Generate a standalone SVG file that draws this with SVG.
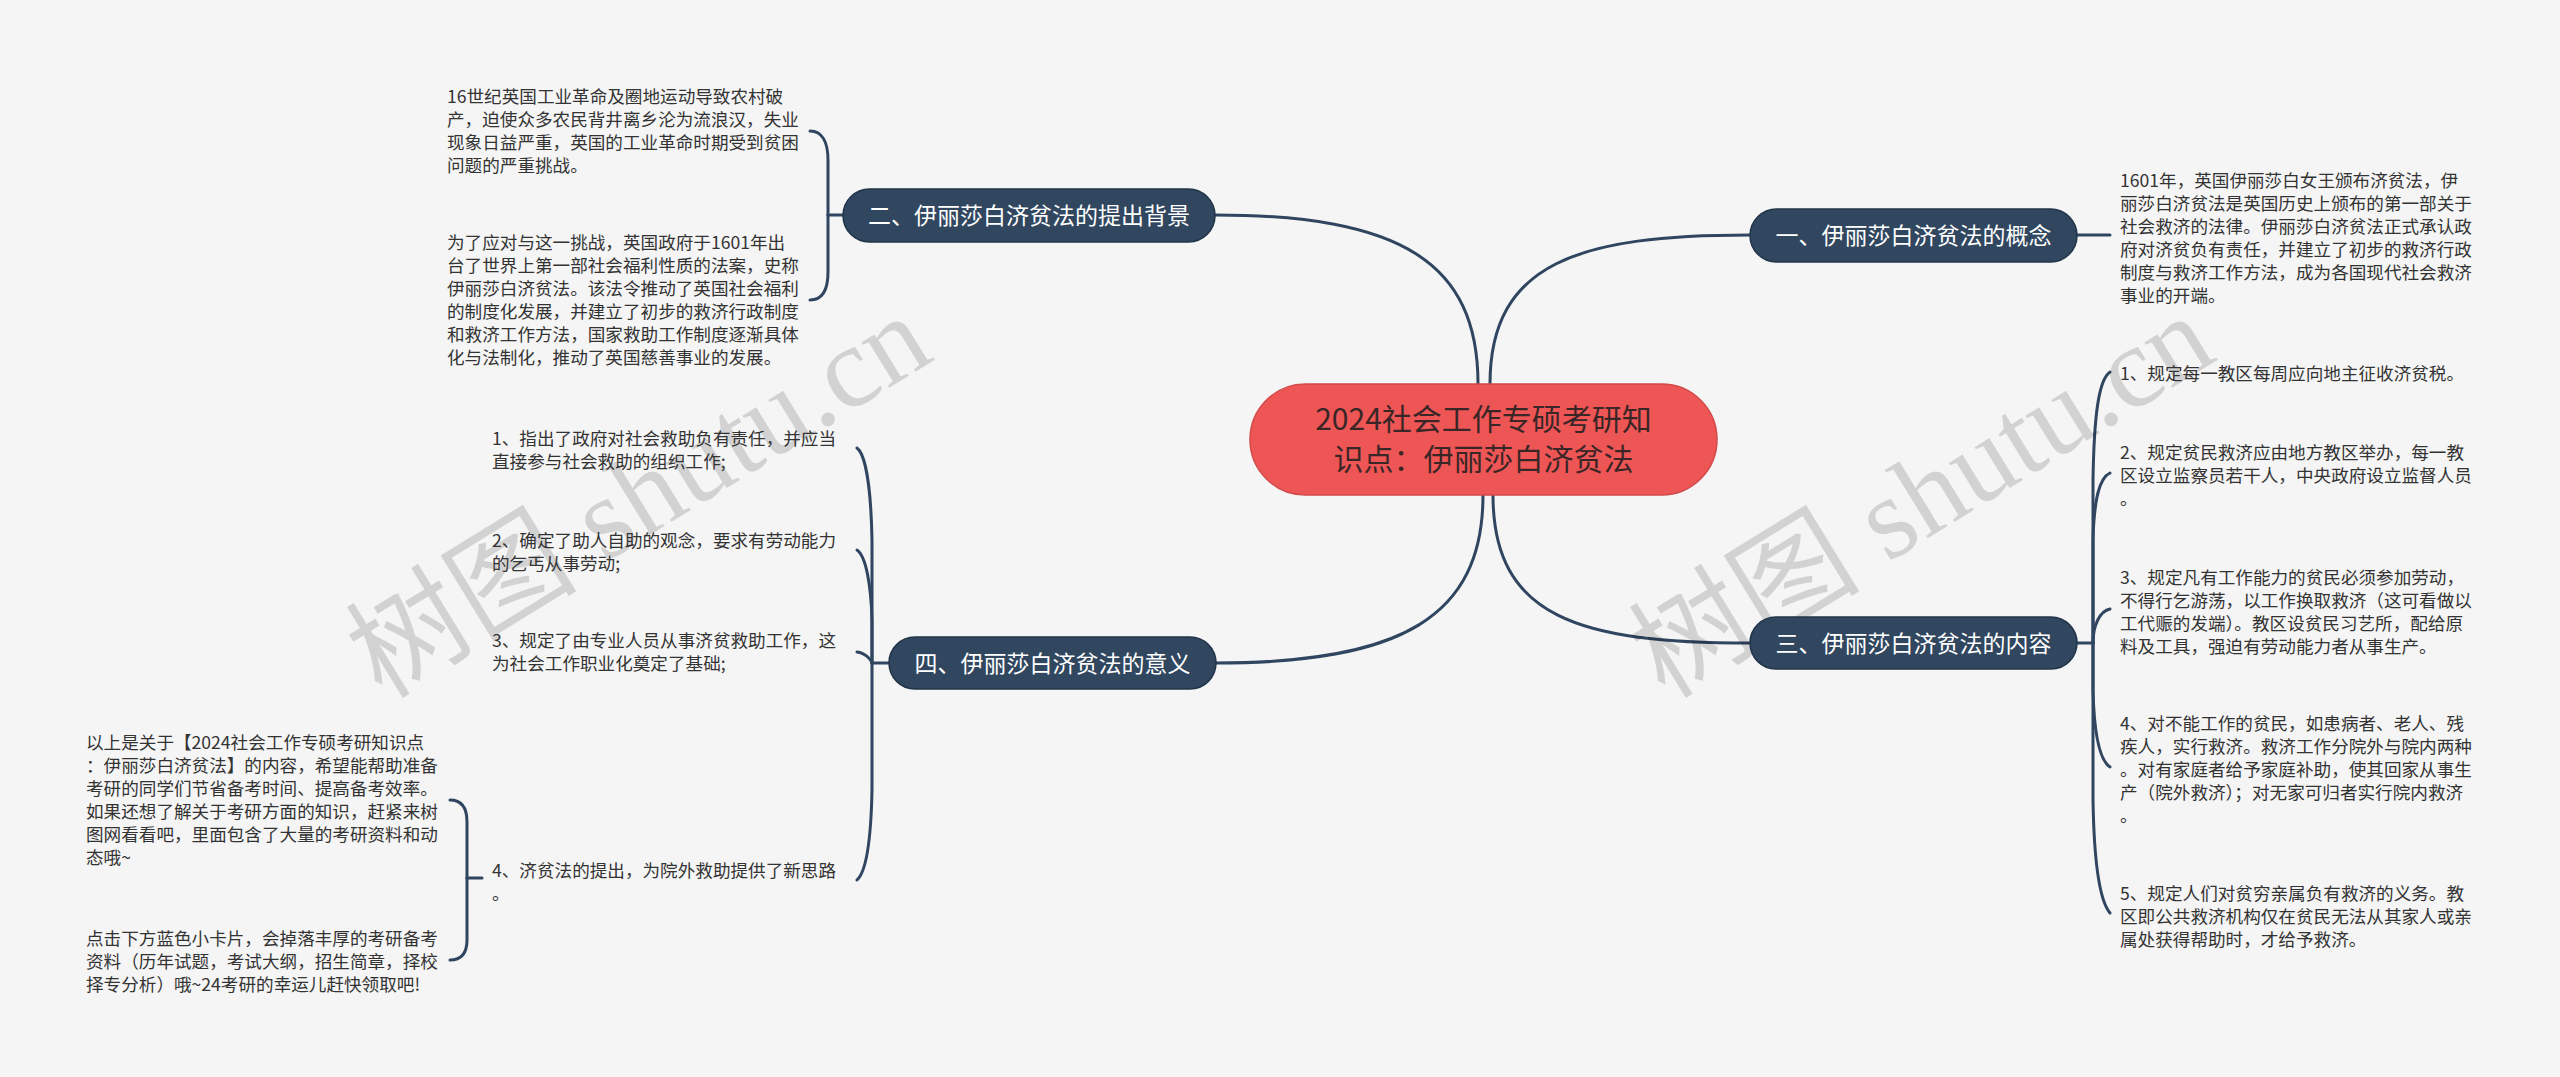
<svg xmlns="http://www.w3.org/2000/svg" width="2560" height="1077" viewBox="0 0 2560 1077">
<style>
.bg{fill:#f5f5f5}
.line{fill:none;stroke:#2f4560;stroke-width:3;stroke-linecap:round}
.branch rect{fill:#30475f;stroke:#22344a;stroke-width:1.5}
.branch text{fill:#ffffff;font-family:"Noto Sans CJK SC","Noto Sans",sans-serif;font-size:23px;text-anchor:middle}
.leaf{fill:#333333;font-family:"Noto Sans CJK SC","Noto Sans",sans-serif;font-size:17.6px}
.wm{fill:#000000;fill-opacity:0.14;font-family:"Liberation Serif","Noto Sans CJK SC",serif;font-size:116px}
</style>
<rect class="bg" x="0" y="0" width="2560" height="1077"/>

<g id="connectors">
  <path class="line" d="M1478,384 C1478,262 1400,215 1215,215"/>
  <path class="line" d="M1490,384 C1490,262 1580,235 1750,235"/>
  <path class="line" d="M1493,495 C1493,618 1580,643 1750,643"/>
  <path class="line" d="M1483,495 C1483,618 1400,663 1216,663"/>
  <!-- 二 children -->
  <path class="line" d="M843,215 L828,215"/>
  <path class="line" d="M828,215 L828,160 C828,142 822,131 810,131"/>
  <path class="line" d="M828,215 L828,272 C828,290 822,300 810,300"/>
  <!-- 一 child -->
  <path class="line" d="M2077,235 L2110,235"/>
  <!-- 三 children -->
  <path class="line" d="M2077,643 L2093,643"/>
  <path class="line" d="M2093,643 L2093,480 C2094,420 2098,380 2110,372"/>
  <path class="line" d="M2093,643 L2093,540 C2094,500 2099,478 2110,473"/>
  <path class="line" d="M2093,643 C2093,625 2100,611 2110,609"/>
  <path class="line" d="M2093,643 L2093,690 C2094,730 2099,760 2110,767"/>
  <path class="line" d="M2093,643 L2093,800 C2094,860 2099,900 2110,913"/>
  <!-- 四 children -->
  <path class="line" d="M889,663 L872,663"/>
  <path class="line" d="M872,663 L872,540 C871,490 866,455 857,448"/>
  <path class="line" d="M872,663 L872,620 C871,585 866,556 857,550"/>
  <path class="line" d="M872,663 C871,660 866,653 857,652"/>
  <path class="line" d="M872,663 L872,790 C871,840 866,872 857,880"/>
  <!-- 四-4 children -->
  <path class="line" d="M482,878 L467,878"/>
  <path class="line" d="M467,878 L467,822 C467,808 462,800 450,800"/>
  <path class="line" d="M467,878 L467,940 C467,952 462,960 450,960"/>
</g>

<g id="watermarks">
  <text class="wm" transform="translate(382,700) rotate(-31.6)">树图 shutu.cn</text>
  <text class="wm" transform="translate(1665,700) rotate(-31.6)">树图 shutu.cn</text>
</g>

<g id="center">
  <rect x="1250" y="384" width="467" height="111" rx="55.5" fill="#ee5555" stroke="#d24a4a" stroke-width="1.5"/>
  <text x="1483.5" y="430" fill="#3a2626" font-family="&quot;Noto Sans CJK SC&quot;,&quot;Noto Sans&quot;,sans-serif" font-size="30" text-anchor="middle">2024社会工作专硕考研知</text>
  <text x="1483.5" y="470" fill="#3a2626" font-family="&quot;Noto Sans CJK SC&quot;,&quot;Noto Sans&quot;,sans-serif" font-size="30" text-anchor="middle">识点：伊丽莎白济贫法</text>
</g>

<g id="branch-2" class="branch">
  <rect x="843" y="189" width="372" height="53" rx="26.5"/>
  <text x="1029" y="224">二、伊丽莎白济贫法的提出背景</text>
</g>
<g id="branch-1" class="branch">
  <rect x="1750" y="209" width="327" height="53" rx="26.5"/>
  <text x="1913.5" y="244">一、伊丽莎白济贫法的概念</text>
</g>
<g id="branch-3" class="branch">
  <rect x="1750" y="617" width="327" height="52" rx="26"/>
  <text x="1913.5" y="652">三、伊丽莎白济贫法的内容</text>
</g>
<g id="branch-4" class="branch">
  <rect x="889" y="637" width="327" height="52" rx="26"/>
  <text x="1052.5" y="672">四、伊丽莎白济贫法的意义</text>
</g>

<g id="leaf-2-1">
  <text class="leaf" x="447" y="103">
    <tspan x="447">16世纪英国工业革命及圈地运动导致农村破</tspan>
    <tspan x="447" dy="23">产，迫使众多农民背井离乡沦为流浪汉，失业</tspan>
    <tspan x="447" dy="23">现象日益严重，英国的工业革命时期受到贫困</tspan>
    <tspan x="447" dy="23">问题的严重挑战。</tspan>
  </text>
</g>
<g id="leaf-2-2">
  <text class="leaf" x="447" y="249">
    <tspan x="447">为了应对与这一挑战，英国政府于1601年出</tspan>
    <tspan x="447" dy="23">台了世界上第一部社会福利性质的法案，史称</tspan>
    <tspan x="447" dy="23">伊丽莎白济贫法。该法令推动了英国社会福利</tspan>
    <tspan x="447" dy="23">的制度化发展，并建立了初步的救济行政制度</tspan>
    <tspan x="447" dy="23">和救济工作方法，国家救助工作制度逐渐具体</tspan>
    <tspan x="447" dy="23">化与法制化，推动了英国慈善事业的发展。</tspan>
  </text>
</g>

<g id="leaf-1-1">
  <text class="leaf" x="2120" y="187">
    <tspan x="2120">1601年，英国伊丽莎白女王颁布济贫法，伊</tspan>
    <tspan x="2120" dy="23">丽莎白济贫法是英国历史上颁布的第一部关于</tspan>
    <tspan x="2120" dy="23">社会救济的法律。伊丽莎白济贫法正式承认政</tspan>
    <tspan x="2120" dy="23">府对济贫负有责任，并建立了初步的救济行政</tspan>
    <tspan x="2120" dy="23">制度与救济工作方法，成为各国现代社会救济</tspan>
    <tspan x="2120" dy="23">事业的开端。</tspan>
  </text>
</g>

<g id="leaf-3-1">
  <text class="leaf" x="2120" y="380">1、规定每一教区每周应向地主征收济贫税。</text>
</g>
<g id="leaf-3-2">
  <text class="leaf" x="2120" y="459">
    <tspan x="2120">2、规定贫民救济应由地方教区举办，每一教</tspan>
    <tspan x="2120" dy="23">区设立监察员若干人，中央政府设立监督人员</tspan>
    <tspan x="2120" dy="23">。</tspan>
  </text>
</g>
<g id="leaf-3-3">
  <text class="leaf" x="2120" y="584">
    <tspan x="2120">3、规定凡有工作能力的贫民必须参加劳动，</tspan>
    <tspan x="2120" dy="23">不得行乞游荡，以工作换取救济（这可看做以</tspan>
    <tspan x="2120" dy="23">工代赈的发端）。教区设贫民习艺所，配给原</tspan>
    <tspan x="2120" dy="23">料及工具，强迫有劳动能力者从事生产。</tspan>
  </text>
</g>
<g id="leaf-3-4">
  <text class="leaf" x="2120" y="730">
    <tspan x="2120">4、对不能工作的贫民，如患病者、老人、残</tspan>
    <tspan x="2120" dy="23">疾人，实行救济。救济工作分院外与院内两种</tspan>
    <tspan x="2120" dy="23">。对有家庭者给予家庭补助，使其回家从事生</tspan>
    <tspan x="2120" dy="23">产（院外救济）；对无家可归者实行院内救济</tspan>
    <tspan x="2120" dy="23">。</tspan>
  </text>
</g>
<g id="leaf-3-5">
  <text class="leaf" x="2120" y="900">
    <tspan x="2120">5、规定人们对贫穷亲属负有救济的义务。教</tspan>
    <tspan x="2120" dy="23">区即公共救济机构仅在贫民无法从其家人或亲</tspan>
    <tspan x="2120" dy="23">属处获得帮助时，才给予救济。</tspan>
  </text>
</g>

<g id="leaf-4-1">
  <text class="leaf" x="492" y="445">
    <tspan x="492">1、指出了政府对社会救助负有责任，并应当</tspan>
    <tspan x="492" dy="23">直接参与社会救助的组织工作;</tspan>
  </text>
</g>
<g id="leaf-4-2">
  <text class="leaf" x="492" y="547">
    <tspan x="492">2、确定了助人自助的观念，要求有劳动能力</tspan>
    <tspan x="492" dy="23">的乞丐从事劳动;</tspan>
  </text>
</g>
<g id="leaf-4-3">
  <text class="leaf" x="492" y="647">
    <tspan x="492">3、规定了由专业人员从事济贫救助工作，这</tspan>
    <tspan x="492" dy="23">为社会工作职业化奠定了基础;</tspan>
  </text>
</g>
<g id="leaf-4-4">
  <text class="leaf" x="492" y="877">
    <tspan x="492">4、济贫法的提出，为院外救助提供了新思路</tspan>
    <tspan x="492" dy="23">。</tspan>
  </text>
</g>

<g id="leaf-4-4-1">
  <text class="leaf" x="86" y="749">
    <tspan x="86">以上是关于【2024社会工作专硕考研知识点</tspan>
    <tspan x="86" dy="23">：伊丽莎白济贫法】的内容，希望能帮助准备</tspan>
    <tspan x="86" dy="23">考研的同学们节省备考时间、提高备考效率。</tspan>
    <tspan x="86" dy="23">如果还想了解关于考研方面的知识，赶紧来树</tspan>
    <tspan x="86" dy="23">图网看看吧，里面包含了大量的考研资料和动</tspan>
    <tspan x="86" dy="23">态哦~</tspan>
  </text>
</g>
<g id="leaf-4-4-2">
  <text class="leaf" x="86" y="945">
    <tspan x="86">点击下方蓝色小卡片，会掉落丰厚的考研备考</tspan>
    <tspan x="86" dy="23">资料（历年试题，考试大纲，招生简章，择校</tspan>
    <tspan x="86" dy="23">择专分析）哦~24考研的幸运儿赶快领取吧!</tspan>
  </text>
</g>
</svg>
